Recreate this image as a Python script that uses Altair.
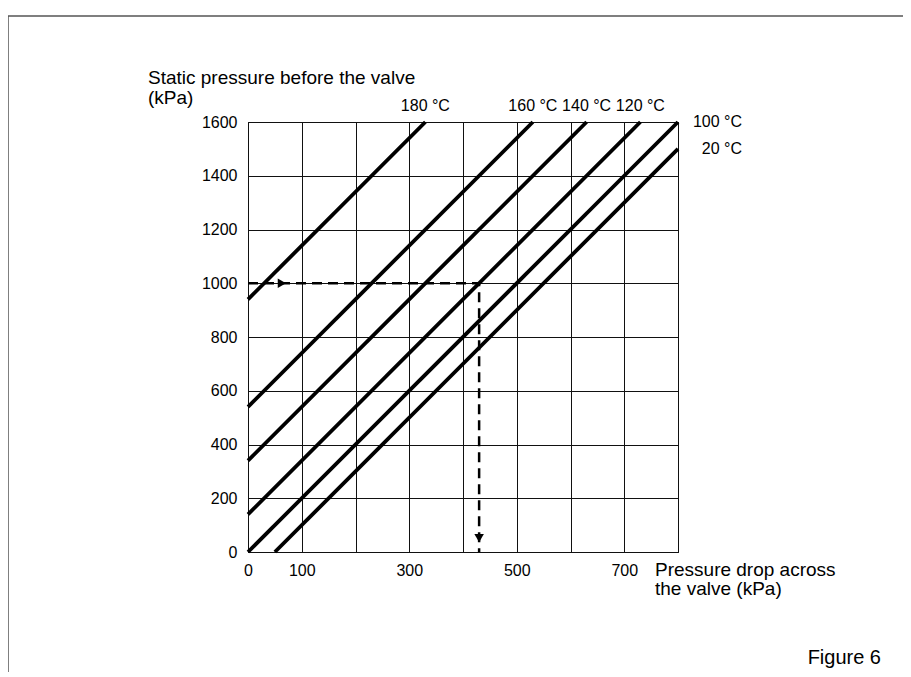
import altair as alt
import pandas as pd

FONT = "Liberation Sans"

# Curves (straight lines): start and end points
temps = ["180 °C", "160 °C", "140 °C", "120 °C", "100 °C", "20 °C"]
x_start = [0, 0, 0, 0, 0, 50]
y_start = [940, 540, 340, 140, 0, 0]
x_end = [330, 530, 630, 730, 800, 800]
y_end = [1600, 1600, 1600, 1600, 1600, 1500]

# Example reading (dashed path) and its arrowheads
dash_x = [0, 430, 430]
dash_y = [1000, 1000, 0]
arrow_x = [63, 430]
arrow_y = [1000, 52]
arrow_shape = ["triangle-right", "triangle-down"]

# Axis ticks
x_ticks = [0, 100, 200, 300, 400, 500, 600, 700, 800]
x_labelled = [0, 100, 300, 500, 700]
y_ticks = [0, 200, 400, 600, 800, 1000, 1200, 1400, 1600]

lines = pd.DataFrame({"temp": temps, "x": x_start, "y": y_start,
                      "x2": x_end, "y2": y_end})
dash = pd.DataFrame({"i": list(range(len(dash_x))), "x": dash_x, "y": dash_y})
arrows = pd.DataFrame({"x": arrow_x, "y": arrow_y, "shape": arrow_shape})

xscale = alt.Scale(domain=[0, 800], nice=False)
yscale = alt.Scale(domain=[0, 1600], nice=False)

label_expr = "indexof([" + ",".join(str(v) for v in x_labelled) + "], datum.value) >= 0 ? datum.label : ''"

base = alt.Chart(lines)

grid = base.mark_rule(strokeWidth=3.8, color="black", strokeCap="butt").encode(
    x=alt.X("x:Q", scale=xscale,
            axis=alt.Axis(values=x_ticks, labelExpr=label_expr, title=None,
                          grid=True, ticks=False, labelPadding=10, format="d",
                          labelFlush=False, labelOverlap=False)),
    y=alt.Y("y:Q", scale=yscale,
            axis=alt.Axis(values=y_ticks, title=None, grid=True, ticks=False,
                          labelPadding=11, format="d")),
    x2="x2:Q",
    y2="y2:Q",
)

top_labels = base.transform_filter("datum.x2 < 800").mark_text(
    font=FONT, fontSize=16, baseline="middle", align="center", dy=-16, color="black"
).encode(x="x2:Q", y="y2:Q", text="temp:N")

right_labels = base.transform_filter("datum.x2 >= 800").mark_text(
    font=FONT, fontSize=16, baseline="middle", align="right", dx=64, color="black"
).encode(x="x2:Q", y="y2:Q", text="temp:N")

dashed = alt.Chart(dash).mark_line(
    strokeDash=[10, 6], strokeWidth=2.5, color="black"
).encode(x="x:Q", y="y:Q", order="i:Q")

heads = alt.Chart(arrows).mark_point(
    filled=True, size=90, color="black", opacity=1
).encode(x="x:Q", y="y:Q", shape=alt.Shape("shape:N", scale=None))

one = pd.DataFrame({"k": [0]})

y_title = alt.Chart(one).mark_text(
    text="Static pressure before the valve\n(kPa)", lineBreak="\n", lineHeight=20,
    font=FONT, fontSize=19, align="left", baseline="alphabetic", color="black"
).encode(x=alt.value(-100), y=alt.value(-38))

x_title = alt.Chart(one).mark_text(
    text="Pressure drop across\nthe valve (kPa)", lineBreak="\n", lineHeight=19,
    font=FONT, fontSize=19, align="left", baseline="alphabetic", color="black"
).encode(x=alt.value(407), y=alt.value(454))

fig_label = alt.Chart(one).mark_text(
    text="Figure 6", font=FONT, fontSize=20, align="right",
    baseline="alphabetic", color="black"
).encode(x=alt.value(633), y=alt.value(542))

frame = alt.Chart(one).mark_rect(
    fill=None, stroke="#555", strokeWidth=1.5
).encode(x=alt.value(-240), x2=alt.value(656), y=alt.value(-106), y2=alt.value(600))

chart = alt.layer(
    frame, grid, dashed, heads, top_labels, right_labels, y_title, x_title, fig_label
).properties(
    width=430, height=430,
    autosize=alt.AutoSizeParams(type="none"),
    padding={"left": 240, "top": 114, "right": 225, "bottom": 120},
).configure_axis(
    gridColor="#111", gridWidth=1, gridOpacity=1,
    domainColor="#111", domainWidth=1,
    labelFont=FONT, labelFontSize=16, labelColor="black",
).configure_view(stroke="#111", strokeWidth=1)

chart.save("out.html", embed_options={"renderer": "svg", "actions": False})
